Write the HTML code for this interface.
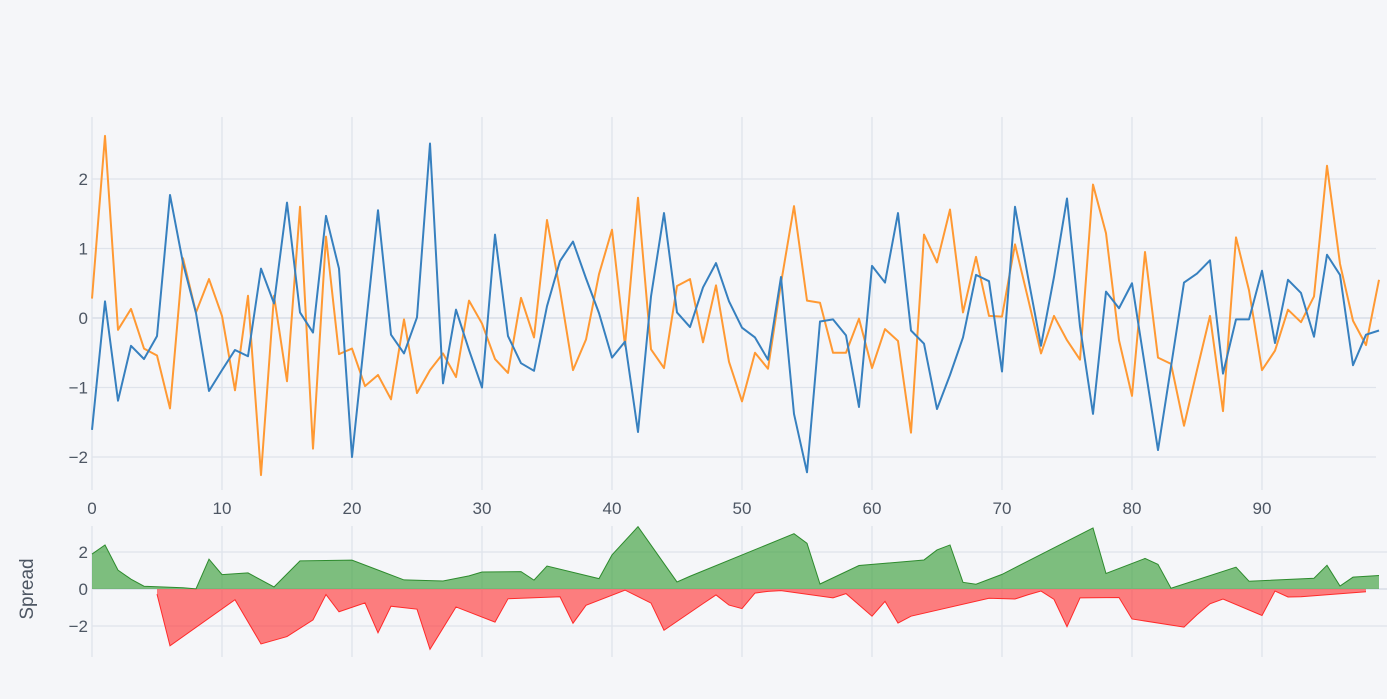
<!DOCTYPE html>
<html><head><meta charset="utf-8"><style>
html,body{margin:0;padding:0;background:#f5f6f9;}
svg{display:block;font-family:"Liberation Sans",sans-serif;}
</style></head><body>
<svg id="chart" width="1387" height="699" viewBox="0 0 1387 699" xmlns="http://www.w3.org/2000/svg">
<rect width="1387" height="699" fill="#f5f6f9"/>
<g id="grid"></g><g id="marks"></g><g id="labels"></g>
</svg>
<script>
const seriesA = [0.28,2.62,-0.17,0.13,-0.44,-0.54,-1.30,0.86,0.08,0.56,0.03,-1.04,0.32,-2.26,0.32,-0.91,1.60,-1.88,1.17,-0.52,
-0.44,-0.98,-0.82,-1.17,-0.02,-1.08,-0.75,-0.51,-0.85,0.25,-0.08,-0.59,-0.79,0.29,-0.28,1.41,0.40,-0.75,-0.31,0.63,
1.27,-0.40,1.73,-0.45,-0.72,0.46,0.56,-0.35,0.47,-0.63,-1.20,-0.50,-0.73,0.50,1.61,0.25,0.22,-0.50,-0.50,-0.01,
-0.72,-0.16,-0.33,-1.65,1.20,0.80,1.56,0.08,0.88,0.03,0.02,1.06,0.28,-0.51,0.03,-0.32,-0.60,1.92,1.22,-0.32,
-1.12,0.95,-0.57,-0.66,-1.55,-0.75,0.03,-1.34,1.16,0.40,-0.75,-0.47,0.12,-0.06,0.31,2.19,0.78,-0.04,-0.39,0.55];
const seriesB = [-1.61,0.24,-1.19,-0.40,-0.59,-0.26,1.77,0.79,0.07,-1.05,-0.75,-0.46,-0.55,0.71,0.21,1.66,0.08,-0.21,1.47,0.71,
-2.00,-0.23,1.55,-0.24,-0.51,0.01,2.51,-0.94,0.12,-0.46,-1.00,1.20,-0.26,-0.65,-0.76,0.17,0.82,1.10,0.57,0.07,
-0.57,-0.34,-1.64,0.31,1.51,0.08,-0.13,0.44,0.79,0.24,-0.14,-0.28,-0.60,0.59,-1.38,-2.22,-0.05,-0.02,-0.25,-1.28,
0.75,0.51,1.51,-0.18,-0.37,-1.31,-0.82,-0.28,0.62,0.53,-0.77,1.60,0.59,-0.40,0.59,1.72,-0.12,-1.38,0.38,0.14,
0.50,-0.70,-1.90,-0.70,0.51,0.64,0.83,-0.80,-0.02,-0.02,0.68,-0.36,0.55,0.36,-0.27,0.91,0.62,-0.68,-0.24,-0.18];
const xTicks = [0,10,20,30,40,50,60,70,80,90];
const yTicks = [2,1,0,-1,-2];
const spreadTicks = [2,0,-2];

const NS="http://www.w3.org/2000/svg";
const X=i=>92+13*i, Y=v=>318-69.5*v, YB=v=>589-18.5*v;
function mk(tag,attrs,parent){const e=document.createElementNS(NS,tag);for(const k in attrs)e.setAttribute(k,attrs[k]);document.getElementById(parent).appendChild(e);return e;}
xTicks.forEach(t=>{
  const g1=mk('line',{x1:X(t),x2:X(t),y1:117,y2:490,stroke:'#dfe3eb','stroke-width':1.3},'grid');
  
  
  const g2=mk('line',{x1:X(t),x2:X(t),y1:526,y2:657,stroke:'#dfe3eb','stroke-width':1.3},'grid');
  
  
  const tl=mk('text',{x:X(t),y:514,'text-anchor':'middle','font-size':17,fill:'#4d5663'},'labels');
  tl.textContent=t;
  
  
});
yTicks.forEach(t=>{
  const g=mk('line',{x1:92,x2:1376,y1:Y(t),y2:Y(t),stroke:'#dfe3eb','stroke-width':t===0?2:1.3},'grid');
  
  
  const tl=mk('text',{x:88,y:Y(t)+6,'text-anchor':'end','font-size':17,fill:'#4d5663'},'labels');
  tl.textContent=t<0?'\u2212'+(-t):t;
  
  
});
spreadTicks.forEach(t=>{
  const g=mk('line',{x1:92,x2:1387,y1:YB(t),y2:YB(t),stroke:'#dfe3eb','stroke-width':t===0?2:1.3},'grid');
  
  
  const tl=mk('text',{x:88,y:YB(t)+6,'text-anchor':'end','font-size':17,fill:'#4d5663'},'labels');
  tl.textContent=t<0?'\u2212'+(-t):t;
  
  
});
const yl=mk('text',{x:33,y:589,'text-anchor':'middle','font-size':19,fill:'#4d5663',transform:'rotate(-90 33 589)'},'labels');
yl.textContent='Spread';



const spread=seriesA.map((a,i)=>a-seriesB[i]);
function area(pos){
  const pts=[];spread.forEach((s,i)=>{if(pos?s>0:s<=0)pts.push([X(i),YB(s)]);});
  if(!pts.length)return;
  const line=pts.map(p=>p[0]+','+p[1]).join(' ');
  const poly=mk('polygon',{points:pts[0][0]+','+YB(0)+' '+line+' '+pts[pts.length-1][0]+','+YB(0),fill:pos?'rgba(60,160,60,0.65)':'rgba(255,60,60,0.65)',stroke:'none'},'marks');
  
  
  const pl=mk('polyline',{points:line,fill:'none',stroke:pos?'#2e8b2e':'#ff2a2a','stroke-width':1},'marks');
  
  
}
area(true);area(false);

function series(data,color,name){
  const pl=mk('polyline',{points:data.map((v,i)=>X(i)+','+Y(v)).join(' '),fill:'none',stroke:color,'stroke-width':2,'stroke-linejoin':'round'},'marks');
  
  
}
series(seriesA,'#ff9933','series-a-line');
series(seriesB,'#3780bf','series-b-line');
</script>
</body></html>
